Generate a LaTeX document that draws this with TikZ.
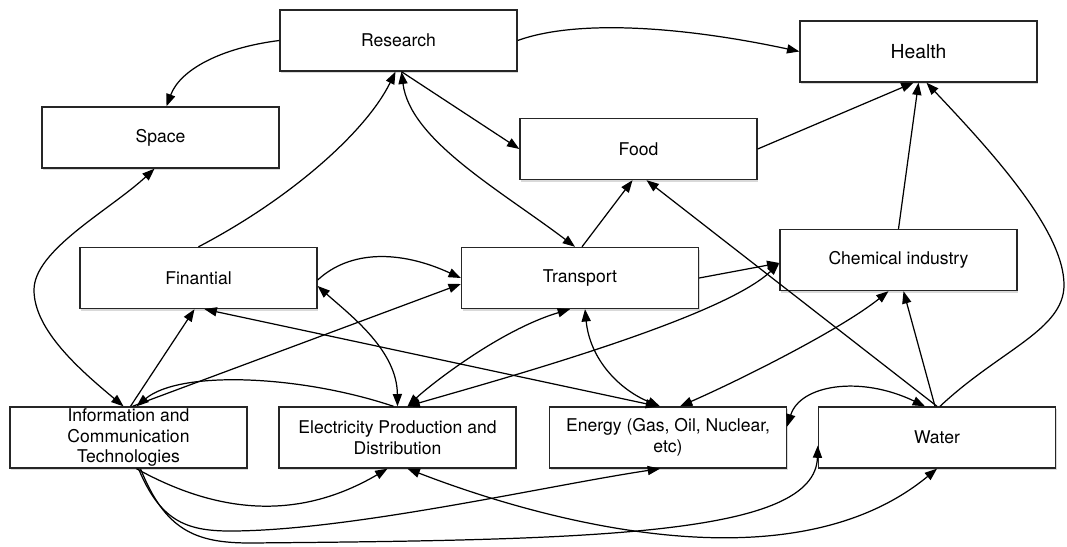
\documentclass[tikz,border=0pt]{standalone}
\usepackage{fontspec}
\setmainfont{TeX Gyre Heros}
\usetikzlibrary{arrows.meta,calc,shadows}
\tikzset{dbox/.style={draw=black!85, line width=0.8pt, fill=white, minimum width=4.74cm, minimum height=1.22cm, inner sep=0pt, align=center, font=\fontsize{10}{11.9}\selectfont, drop shadow={shadow xshift=0.6pt, shadow yshift=-1.2pt, opacity=0.3}}}
\tikzset{arr/.style={draw, line width=0.7pt, >={Triangle[length=7pt,width=5.2pt]}}}

\begin{document}
\begin{tikzpicture}[x=0.02cm, y=-0.02cm]
	\useasboundingbox (0,0) rectangle (1067,547);
	\node[dbox] (Res) at (398.5,40.5) {Research};
	\node[dbox, font=\fontsize{11}{13}\selectfont] (Hlth) at (918.5,51.5) {Health};
	\node[dbox] (Spc) at (160.5,137.5) {Space};
	\node[dbox] (Food) at (638.5,149) {Food};
	\node[dbox] (Fin) at (198.5,278) {Finantial};
	\node[dbox] (Tr) at (580,278) {Transport};
	\node[dbox] (Chem) at (898.5,260) {Chemical industry};
	\node[dbox] (ICT) at (128.5,437.5) {Information and\\Communication\\Technologies};
	\node[dbox] (Elec) at (397.5,437.5) {Electricity Production and\\Distribution};
	\node[dbox] (En) at (668,437.5) {Energy (Gas, Oil, Nuclear,\\etc)};
	\node[dbox] (Wat) at (937,437.5) {Water};
	
	\begin{scope}[arr, ->]
		\draw (Res.west) .. controls (220,48) and (180,70) .. ($(Spc.north)+(6,0)$);
		\draw (Res.east) .. controls (580,18) and (690,28) .. (Hlth.west);
		\draw ($(Res.south)+(3,0)$) -- (Food.west);
		\draw (Fin.north) .. controls (290,199) and (366,132) .. ($(Res.south)+(-3,0)$);
		\draw[<->] ($(Res.south)+(3,0)$) .. controls (410,140) and (500,190) .. ($(Tr.north)+(-5,0)$);
		\draw ($(Tr.north)+(2,0)$) -- ($(Food.south)+(-6,0)$);
		\draw (Wat.north) -- ($(Food.south)+(8,0)$);
		\draw (Food.east) -- ($(Hlth.south)+(-5,0)$);
		\draw (Chem.north) -- (Hlth.south);
		\draw ($(Wat.north)+(3,0)$) .. controls (1000,350) and (1064,330) .. (1064,285) .. controls (1064,230) and (990,150) .. ($(Hlth.south)+(8,0)$);
		
		\draw[<->] ($(ICT.north)+(-5,0)$) .. controls (80,370) and (34,330) .. (34,290) .. controls (34,250) and (110,210) .. ($(Spc.south)+(-6,0)$);
		\draw ($(ICT.north)+(2,0)$) -- ($(Fin.south)+(-4,0)$);
		\draw ($(ICT.north)+(4,0)$) -- ($(Tr.west)+(0,6)$);
		\draw ($(Fin.east)+(0,2)$) .. controls (350,250) and (400,250) .. (Tr.west);
		\draw[<->] ($(Fin.east)+(0,8)$) .. controls (350,315) and (397,350) .. (Elec.north);
		\draw[<->] ($(Fin.south)+(6,0)$) -- ($(En.north)+(-10,0)$);
		\draw[<->] ($(Elec.north)+(10,0)$) .. controls (430,385) and (500,330) .. ($(Tr.south)+(-10,0)$);
		\draw[<->] ($(Elec.north)+(10,0)$) .. controls (480,385) and (720,320) .. ($(Chem.west)+(0,3)$);
		\draw (Tr.east) -- ($(Chem.west)+(0,3)$);
		\draw[<->] ($(Tr.south)+(5,0)$) .. controls (590,360) and (620,390) .. ($(En.north)+(-8,0)$);
		\draw[<->] ($(En.north)+(12,0)$) .. controls (740,380) and (840,330) .. ($(Chem.south)+(-10,0)$);
		\draw ($(Wat.north)+(-2,0)$) -- ($(Chem.south)+(5,0)$);
		\draw[<->] ($(Wat.north)+(-12,0)$) .. controls (860,375) and (800,385) .. ($(En.east)+(0,-11)$);
		\draw ($(Elec.north)+(-4,0)$) .. controls (300,375) and (180,370) .. ($(ICT.north)+(8,0)$);
		
		\draw ($(ICT.south)+(8,0)$) .. controls (220,515) and (300,520) .. ($(Elec.south)+(-10,0)$);
		\draw ($(ICT.south)+(10,0)$) .. controls (160,520) and (185,531) .. (230,531) .. controls (350,531) and (550,485) .. ($(En.south)+(-8,0)$);
		\draw ($(ICT.south)+(12,0)$) .. controls (165,530) and (195,543) .. (250,543) .. controls (600,540) and (815,535) .. ($(Wat.west)+(0,8)$);
		\draw[<->] ($(Elec.south)+(10,0)$) .. controls (540,520) and (790,590) .. (Wat.south);
	\end{scope}
\end{tikzpicture}
\end{document}
